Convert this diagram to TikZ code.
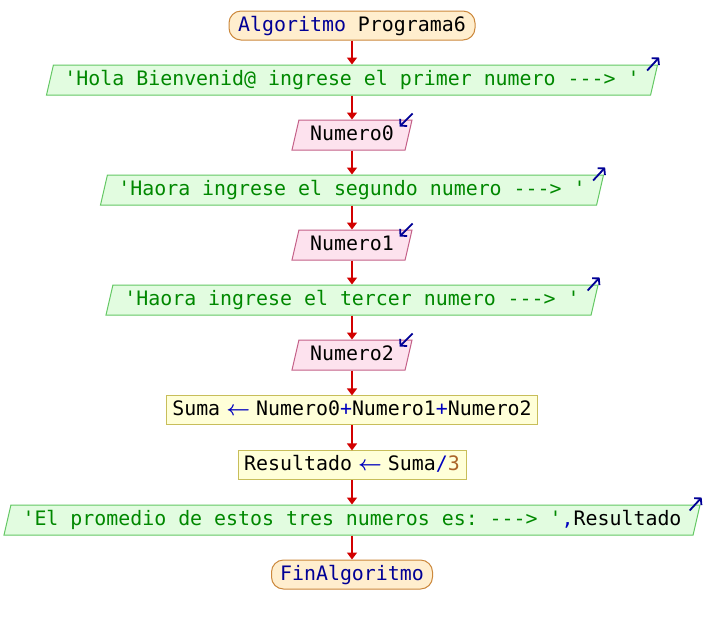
\documentclass[tikz,border=0pt]{standalone}
\usepackage{fontspec}
\setmonofont{DejaVu Sans Mono}
\usetikzlibrary{shapes.geometric,arrows.meta}

\definecolor{termfill}{RGB}{255,238,206}
\definecolor{termdraw}{RGB}{204,136,60}
\definecolor{outfill}{RGB}{226,252,224}
\definecolor{outdraw}{RGB}{100,200,100}
\definecolor{infill}{RGB}{253,226,238}
\definecolor{indraw}{RGB}{196,96,136}
\definecolor{procfill}{RGB}{255,255,216}
\definecolor{procdraw}{RGB}{200,190,90}
\definecolor{flowred}{RGB}{210,0,0}
\definecolor{markblue}{RGB}{0,0,150}
\definecolor{kwblue}{RGB}{0,0,150}
\definecolor{opblue}{RGB}{0,0,190}
\definecolor{strgreen}{RGB}{0,136,0}
\definecolor{numbrown}{RGB}{170,100,40}

% assignment arrow: one character cell, glyph allowed to overhang
\newcommand\assignarrow{{\color{opblue}\makebox[0.602em]{\boldmath$\leftarrow$}}}

\begin{document}
\begin{tikzpicture}[x=1pt,y=1pt,
  base/.style={font=\ttfamily\fontsize{19.9}{22}\selectfont,
    text height=15pt, text depth=4pt, inner sep=0pt, line width=1pt},
  term/.style={base, rectangle, draw=termdraw, fill=termfill,
    rounded corners=12pt, minimum width=#1, minimum height=29pt},
  para/.style={base, trapezium, trapezium left angle=70,
    trapezium right angle=110, trapezium stretches body,
    minimum width=#1, minimum height=30pt},
  outbox/.style={para=#1, draw=outdraw, fill=outfill, text=strgreen},
  inbox/.style={para=#1, draw=indraw, fill=infill},
  proc/.style={base, rectangle, draw=procdraw, fill=procfill,
    minimum width=#1, minimum height=29pt},
  flow/.style={draw=flowred, line width=1.6pt,
    -{Triangle[length=7pt,width=10pt]}},
  iomark/.style={draw=markblue, line width=1.8pt,
    -{Straight Barb[length=4.5pt,width=10pt]}}
]
\useasboundingbox (0,0) rectangle (704,-625);
\fill[white] (0,0) rectangle (704,-625);

% flowchart blocks, top to bottom
\node[term=246pt] (start) at (352,-25.5) {{\color{kwblue}Algoritmo} Programa6};
\node[outbox=611pt] (o1) at (352,-80) {'Hola Bienvenid@ ingrese el primer numero ---> '};
\node[inbox=120pt] (i0) at (352,-135) {Numero0};
\node[outbox=503pt] (o2) at (352,-190) {'Haora ingrese el segundo numero ---> '};
\node[inbox=120pt] (i1) at (352,-245) {Numero1};
\node[outbox=492pt] (o3) at (352,-300) {'Haora ingrese el tercer numero ---> '};
\node[inbox=120pt] (i2) at (352,-355) {Numero2};
\node[proc=371pt] (p1) at (352,-410.4) {Suma \assignarrow{} Numero0{\color{opblue}+}Numero1{\color{opblue}+}Numero2};
\node[proc=228pt] (p2) at (352,-465.4) {Resultado \assignarrow{} Suma{\color{opblue}/}{\color{numbrown}3}};
\node[outbox=696pt] (o4) at (352,-520) {'El promedio de estos tres numeros es: ---> '{\color{opblue},}{\color{black}Resultado}};
\node[term=161pt] (fin) at (352,-574.5) {{\color{kwblue}FinAlgoritmo}};

% control flow
\foreach \a/\b in {start/o1, o1/i0, i0/o2, o2/i1, i1/o3, o3/i2, i2/p1, p1/p2, p2/o4, o4/fin}
  \draw[flow] (\a.south -| start.south) -- (\b.north -| start.south);

% output marks
\foreach \n in {o1,o2,o3,o4}
  \draw[iomark] ([shift={(-11,-6)}]\n.top right corner) -- ([shift={(1,7)}]\n.top right corner);

% input marks
\foreach \n in {i0,i1,i2}
  \draw[iomark] ([shift={(0,6)}]\n.top right corner) -- ([shift={(-13,-7)}]\n.top right corner);
\end{tikzpicture}
\end{document}
